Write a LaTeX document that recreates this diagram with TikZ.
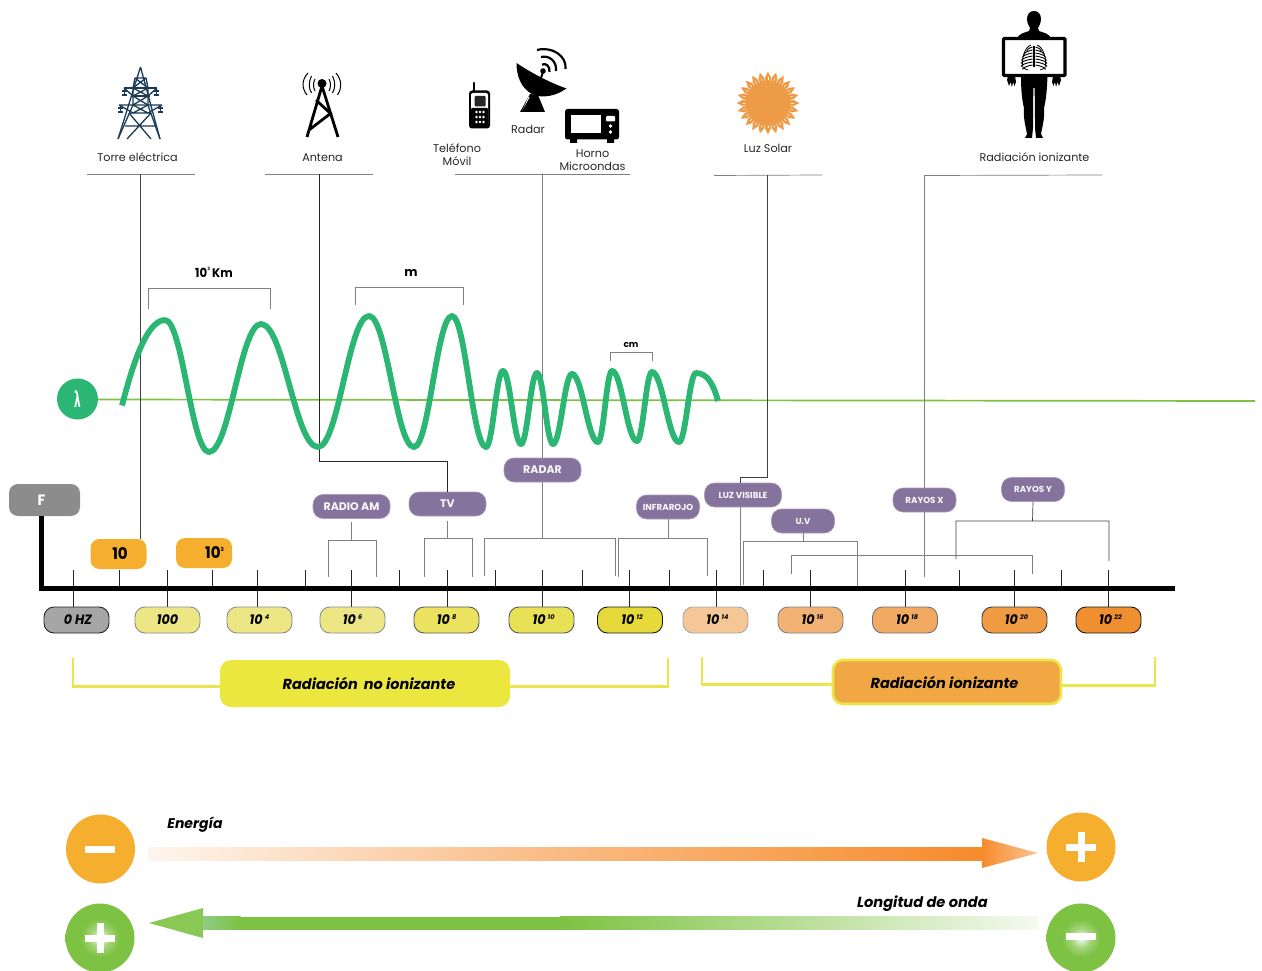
\documentclass[tikz,border=0pt]{standalone}
\usepackage{fontspec}
\setmainfont{Poppins}
\newfontfamily\dvfont{DejaVu Sans}
\usetikzlibrary{calc}
\definecolor{wavegreen}{HTML}{2BB673}
\definecolor{linegreen}{HTML}{7DC242}
\definecolor{purpbox}{HTML}{85729D}
\definecolor{ambbox}{HTML}{F5AE2E}
\definecolor{navyt}{HTML}{1B3A57}
\definecolor{sunor}{HTML}{EE9B47}
\definecolor{brackyel}{HTML}{E9E64A}
\definecolor{yelbox}{HTML}{EBE73F}
\definecolor{orabox}{HTML}{F2A745}
\definecolor{arrowor}{HTML}{F68B2C}
\pgfdeclareradialshading{glowgreen}{\pgfpoint{0bp}{0bp}}{color(0bp)=(white); color(7bp)=(linegreen!70!white); color(14bp)=(linegreen); color(50bp)=(linegreen)}
\tikzset{
  pill/.style={draw=#1,line width=.9pt,rounded corners=10pt,minimum height=26pt,inner sep=0pt,font=\bfseries\itshape\fontsize{13.5}{13.5}\selectfont,text=black},
  purp/.style={fill=purpbox,draw=purpbox!70!white,line width=.6pt,rounded corners=10pt,minimum height=24pt,inner sep=0pt,text=white!95!purpbox,font=\fontsize{#1}{#1}\selectfont\bfseries},
  purp/.default=10,
  amb/.style={fill=ambbox,rounded corners=9pt,minimum width=56pt,minimum height=30pt,inner sep=0pt,font=\bfseries\fontsize{16}{16}\selectfont},
  lab/.style={font=\fontsize{11.2}{13.3}\selectfont,text=black!85,align=center,inner sep=0pt},
  thin line/.style={line width=.7pt,draw=black!75},
  grey line/.style={line width=.7pt,draw=black!50},
  tick line/.style={line width=1pt,draw=black!85},
  wave seg/.style={draw=wavegreen,line width=5.8pt,line cap=round},
  yelbr/.style={draw=brackyel,line width=2.6pt},
}
\newcommand{\nar}[1]{\scalebox{.94}[1]{#1}}
\newcommand{\up}[1]{\raisebox{5pt}{\fontsize{6.5}{6.5}\selectfont #1}}
\begin{document}
\begin{tikzpicture}[x=1pt,y=-1pt,line join=miter]
\useasboundingbox (0,0) rectangle (1262,971);

% ---------- top labels
\node[lab] (ltorre) at (137.5,157.5) {Torre eléctrica};
\node[lab] (lant) at (322.5,157.5) {Antena};
\node[lab] (ltel) at (457,155) {Teléfono\\Móvil};
\node[lab] (lrad) at (528,129.5) {Radar};
\node[lab] (lhorno) at (592.5,160) {Horno\\Microondas};
\node[lab] (lluz) at (768,148) {Luz Solar};
\node[lab] (lrion) at (1034.5,157.5) {Radiación ionizante};

% top rules
\coordinate (r1a) at (87,174.5); \coordinate (r1b) at (195,174.5);
\coordinate (r2a) at (265,174.5); \coordinate (r2b) at (373,174.5);
\coordinate (r3a) at (455,174.5); \coordinate (r3b) at (630,174.5);
\coordinate (r4a) at (714,175.5); \coordinate (r4b) at (822,175);
\coordinate (r5a) at (924.5,175.5); \coordinate (r5b) at (1102,175);
\draw[grey line] (r1a)--(r1b) (r2a)--(r2b) (r3a)--(r3b) (r4a)--(r4b) (r5a)--(r5b);

% ---------- green baseline
\coordinate (baseL) at (98,399.5); \coordinate (baseR) at (1255,401);
\draw[linegreen,line width=1.7pt] (baseL)--(baseR);

% ---------- purple & amber boxes
\node[purp=11,minimum width=77pt] (am) at (351.5,506.5) {RADIO AM};
\node[purp=11,minimum width=77pt] (tv) at (447.5,504) {TV};
\node[purp=11,minimum width=77pt] (radar) at (542.5,470) {RADAR};
\node[purp=8.7,minimum width=63pt] (infra) at (668,507) {INFRAROJO};
\node[purp=8.7,minimum width=77pt] (luzv) at (743,495) {LUZ VISIBLE};
\node[purp=8.7,minimum width=63pt] (uv) at (803,521) {U.V};
\node[purp=8.7,minimum width=63pt] (rx) at (924.5,500) {RAYOS X};
\node[purp=8.7,minimum width=63pt] (ry) at (1033,489.5) {RAYOS Y};
\node[amb] (f10) at (118.5,554) {\hspace{3pt}\nar{10}};
\node[amb] (f1k) at (204,553) {\hspace{21pt}\nar{10}\raisebox{7pt}{\fontsize{5.5}{5.5}\selectfont 3}};
\node[fill=black!45!white,rounded corners=9pt,minimum width=71pt,minimum height=32pt,inner sep=0pt,text=white,font=\bfseries\fontsize{15}{15}\selectfont] (fbox) at (44.5,500) {\hspace{-6pt}\nar{F}};

% ---------- vertical connectors
\draw[thin line] (r1a-|140,0) -- (140,539);
\draw[line width=.9pt,draw=black!85] (319,174.5) -- (319,461) -- (447.5,461) -- (tv.north);
\draw[grey line] (542.5,174.5) -- (radar.north);
\draw[thin line] (767.8,175.5) -- (767.8,477.5) -- (740,477.5) -- (740,483);
\draw[grey line] (740,507) -- (740,587);
\draw[grey line] (r5a) -- (rx.north);
\draw[grey line] (924.5,512) -- (924.5,577);

% brackets under purple boxes
\draw[grey line] (351.5,522) -- (351.5,540) (328,577) -- (328,540) -- (376,540) -- (376,577);
\draw[grey line] (447.5,521) -- (447.5,538.5) (424,577) -- (424,538.5) -- (472,538.5) -- (472,577);
\draw[grey line] (542.5,482) -- (542.5,538) (484,576) -- (484,538) -- (615,538) -- (615,576);
\draw[grey line] (668,519) -- (668,538) (618,577) -- (618,538) -- (707.5,538) -- (707.5,576);
\draw[grey line] (803,533) -- (803,541) (743,585) -- (743,541) -- (857.5,541) -- (857.5,588);
\draw[grey line] (791,574) -- (791,555.5) -- (1032.5,555.5) -- (1032.5,574);
\draw[thin line] (ry.south) -- (1032.5,521) (956,559) -- (956,521) -- (1109,521) -- (1109,561);

% ---------- axis and ticks
\foreach \x in {73,167,257.5,351,447,542,629,716,810,905,1014,1108}
  \draw[tick line] (\x,570) -- (\x,607);
\foreach \x in {119,212,305,399.5,495,582,669,763,959,1061}
  \draw[tick line] (\x,570) -- (\x,588);
\coordinate (axO) at (41.5,588);
\draw[line width=5pt,draw=black] (fbox.south -| axO) -- (axO) -- (1175,588);

% ---------- frequency pills
\node[pill=black!85,fill=black!35,minimum width=65pt] (p0) at (76.5,620) {\hspace{3pt}\nar{0 HZ}};
\node[pill=black!45,fill={rgb,255:red,237;green,230;blue,133},minimum width=65pt] (p2) at (167.5,620) {\nar{100}};
\node[pill=black!45,fill={rgb,255:red,237;green,230;blue,133},minimum width=65pt] (p4) at (259.5,620) {\nar{10}\,\up{4}};
\node[pill=black!45,fill={rgb,255:red,237;green,230;blue,133},minimum width=65pt] (p6) at (352.5,620) {\nar{10}\,\up{6}};
\node[pill=black!65,fill={rgb,255:red,235;green,226;blue,95},minimum width=65pt] (p8) at (446.5,620) {\nar{10}\,\up{8}};
\node[pill=black!65,fill={rgb,255:red,233;green,225;blue,85},minimum width=65pt] (p10) at (541.5,620) {\hspace{4pt}\nar{10}\,\up{10}};
\node[pill=black!90,fill={rgb,255:red,230;green,217;blue,58},minimum width=65pt] (p12) at (630,620) {\hspace{4pt}\nar{10}\,\up{12}};
\node[pill=black!35,fill={rgb,255:red,246;green,199;blue,150},minimum width=65pt] (p14) at (715.5,620) {\hspace{4pt}\nar{10}\,\up{14}};
\node[pill=black!50,fill={rgb,255:red,242;green,178;blue,115},minimum width=65pt] (p16) at (810.5,620) {\hspace{4pt}\nar{10}\,\up{16}};
\node[pill=black!55,fill={rgb,255:red,242;green,169;blue,98},minimum width=65pt] (p18) at (905,620) {\hspace{4pt}\nar{10}\,\up{18}};
\node[pill=black!75,fill={rgb,255:red,240;green,154;blue,66},minimum width=65pt] (p20) at (1014.5,620) {\hspace{4pt}\nar{10}\,\up{20}};
\node[pill=black!90,fill={rgb,255:red,239;green,143;blue,47},minimum width=65pt] (p22) at (1108.5,620) {\hspace{4pt}\nar{10}\,\up{22}};

% ---------- radiation bands
\node[fill=yelbox,rounded corners=11pt,minimum width=290pt,minimum height=47pt,inner sep=0pt,font=\bfseries\itshape\fontsize{14.5}{14.5}\selectfont] (nion) at (365,683.5) {\hspace{8pt}Radiación\, no ionizante};
\node[fill=orabox,draw=brackyel,line width=2.6pt,rounded corners=10pt,minimum width=228pt,minimum height=44pt,inner sep=0pt,font=\bfseries\itshape\fontsize{14.5}{14.5}\selectfont] (ion) at (947,682) {\hspace{-5pt}Radiación ionizante};
\draw[yelbr] (73,658) -- (73,686.5) -- (nion.west |- 0,686.5);
\draw[yelbr] (668,658) -- (668,686.5) -- (nion.east |- 0,686.5);
\draw[yelbr] (702,657) -- (702,684.5) -- (ion.west |- 0,684.5);
\draw[yelbr] (1155,657) -- (1155,685.5) -- (ion.east |- 0,685.5);

% ---------- wave brackets
\draw[grey line] (148,309) -- (148,288) -- (270,288) -- (270,309);
\draw[grey line] (355,305) -- (355,287) -- (463,287) -- (463,305);
\draw[grey line] (610,361) -- (610,352) -- (652,352) -- (652,361);
\node[font=\bfseries\fontsize{12.5}{12.5}\selectfont,inner sep=0pt] (lkm) at (214,272.5) {\nar{10}\raisebox{7pt}{\fontsize{4.5}{4.5}\selectfont 3}\,\nar{Km}};
\node[font=\bfseries\fontsize{12.5}{12.5}\selectfont,inner sep=0pt] (lm) at (411,273) {m};
\node[font=\bfseries\fontsize{9}{9}\selectfont,inner sep=0pt] (lcm) at (631,344.5) {cm};

% ---------- wave
\draw[wave seg,line cap=butt] (122,405.5) .. controls (130,375) and (145,320) .. (165,320);
\foreach \xa/\ya/\xb/\yb in {165/320/209/452,209/452/261/324,261/324/318/447,318/447/369/316,369/316/414/447,414/447/452/316,452/316/486/447,486/447/503/371,503/371/521/444,521/444/537/373,537/373/553/444,553/444/572/374,572/374/598/442,598/442/612/371,612/371/637/441,637/441/652/372,652/372/679/442,679/442/696/373}
  \draw[wave seg] (\xa,\ya) .. controls ($(\xa,\ya)!.4!(\xb,\ya)$) and ($(\xb,\yb)!.4!(\xa,\yb)$) .. (\xb,\yb);
\draw[wave seg,line cap=butt] (696,373) .. controls (708,373) and (714,386) .. (718,401);

% lambda badge
\node[circle,fill=wavegreen,minimum size=41pt,inner sep=0pt,text=white,font=\dvfont\bfseries\fontsize{17}{17}\selectfont] (lam) at (77.5,399) {\scalebox{.62}[1.3]{λ}};

% ---------- tower icon
\begin{scope}[draw=navyt,line width=1.3pt]
\draw (140.5,67) -- (118,139) (140.5,67) -- (160,139);
\draw (118,139) -- (133,105) -- (133,88) -- (135,78) (160,139) -- (148,105) -- (148,88) -- (146,78);
\draw (135,78)--(146,78) (135,78)--(148,88) (146,78)--(133,88);
\draw (124,88)--(157,88) (131,96)--(150,96);
\draw (133,88)--(148,96) (148,88)--(133,96) (133,96)--(148,105) (148,96)--(133,105);
\draw (119,105)--(162,105) (119,105)--(133,113) (162,105)--(148,113) (124,88)--(133,96) (157,88)--(148,96);
\draw (130,113)--(151,113) (129,113)--(151,139) (151,113)--(127,139) (125,126)--(156,126) (133,105)--(148,113) (148,105)--(133,113);
\draw[line width=1.5pt] (122,91)--(127,91) (122,95)--(127,95) (154,91)--(159,91) (154,95)--(159,95) (118,108)--(123,108) (118,112)--(123,112) (158,108)--(163,108) (158,112)--(163,112);
\draw (124.5,88)--(124.5,96) (156.5,88)--(156.5,96) (120.5,105)--(120.5,113) (160.5,105)--(160.5,113);
\end{scope}

% ---------- antenna icon
\begin{scope}[draw=black]
\draw[line width=2.8pt] (322,86) -- (307,137) (322,86) -- (338,137) (316,100) -- (330.5,113.5) -- (309,130);
\fill (322,83.5) circle[radius=4.5];
\draw[line width=1pt] (315,79) .. controls (313,83) and (313,87) .. (315,91) (329,79) .. controls (331,83) and (331,87) .. (329,91)
 (311.5,76) .. controls (308.5,82) and (308.5,88) .. (311.5,93) (332.5,76) .. controls (335.5,82) and (335.5,88) .. (332.5,93)
 (308,73) .. controls (301.5,80) and (301.5,88) .. (307,95) (336,73) .. controls (342,80) and (342,88) .. (337.5,95);
\end{scope}

% ---------- phone icon
\draw[line width=2.4pt,line cap=round] (474,83) -- (474,92);
\fill[black,rounded corners=3pt] (469,90.5) rectangle (490,128.5);
\fill[white,rounded corners=2pt] (471,93) rectangle (488,126);
\fill[black!85,rounded corners=1pt] (474.5,96) rectangle (485.5,106.5);
\fill[black,rounded corners=1pt] (471,108) rectangle (488,126);
\foreach \px in {476.5,480,483.5} \foreach \py in {112,117,122} \fill[white] (\px,\py) circle[radius=1.3];

% ---------- radar icon
\fill[black] (516.5,63) .. controls (530,72) and (548,82) .. (566.5,88.5) .. controls (556,96) and (542,99) .. (532,94) .. controls (521,88) and (516.5,76) .. (516.5,63) -- cycle;
\fill[black] (530,94) -- (520,112) -- (545,112) -- (538,95) -- cycle;
\fill[white] (528.5,97) -- (522.5,110) -- (529.5,97.5) -- cycle;
\draw[line width=2pt] (541,78) -- (543,72);
\fill (543,71) circle[radius=2.8];
\draw[line width=2.2pt] (542,64.5) .. controls (546,63) and (550,66) .. (549.5,72)
  (541,57) .. controls (549,55) and (557,61) .. (556,71)
  (537,50) .. controls (552,46) and (567,56) .. (565.5,69);

% ---------- microwave icon
\fill[black,rounded corners=2.5pt] (565,109) rectangle (619,139.5);
\fill[black] (570,139) rectangle (577,143) (607,139) rectangle (614,143);
\fill[white] (571,115) rectangle (601,133.5);
\fill[white,rounded corners=1pt] (606,116) rectangle (615,121.5);
\fill[white] (610.5,126) circle[radius=1.9] (610.5,132) circle[radius=1.9];

% ---------- sun icon
\coordinate (sunc) at (768,103);
\foreach \a in {0,15,...,345}
  \fill[sunor] ($(sunc)+(\a-7.5:25)$) -- ($(sunc)+(\a:31.5)$) -- ($(sunc)+(\a+7.5:25)$) -- (sunc) -- cycle;
\foreach \a in {0,7.5,...,359}
  \draw[white,line width=.5pt] ($(sunc)+(\a:22.6)$) -- ($(sunc)+(\a:25.5)$);
\fill[sunor] (sunc) circle[radius=22];

% ---------- person icon
\fill[black] (1034,11) .. controls (1030,11) and (1027,14) .. (1027,19) .. controls (1027,23) and (1029,26) .. (1030,28) -- (1029,31) .. controls (1024,33) and (1020,33) .. (1017,38) -- (1051,38) .. controls (1048,33) and (1044,33) .. (1039,31) -- (1038,28) .. controls (1039,26) and (1041,23) .. (1041,19) .. controls (1041,14) and (1038,11) .. (1034,11) -- cycle;
\fill[black] (1021,76) -- (1047.5,76) .. controls (1047,90) and (1046,100) .. (1044,108) .. controls (1045,118) and (1042,128) .. (1041,134) -- (1043,138) -- (1036,138) -- (1035,128) .. controls (1035,118) and (1035,100) .. (1034.5,88) -- (1033.5,88) .. controls (1033,100) and (1033,118) .. (1033,128) -- (1032,138) -- (1025,138) -- (1027,134) .. controls (1026,128) and (1023,118) .. (1024,108) .. controls (1022,100) and (1021,90) .. (1021,76) -- cycle;
\fill[black] (1008,76) -- (1015,76) -- (1016,82) -- (1014.5,86) -- (1013,82) -- (1012,87) -- (1010.5,82) -- (1009,86) -- (1007,80) -- cycle;
\fill[black] (1053,76) -- (1060,76) -- (1061,80) -- (1059,86) -- (1057.5,82) -- (1056,87) -- (1055,82) -- (1053.5,86) -- (1052,82) -- cycle;
\draw[black,line width=3.3pt,fill=white,rounded corners=1pt] (1003.5,38.5) rectangle (1065,75.5);
% ribs
\fill[black] (1033,46) rectangle (1035,67);
\foreach \ry/\rw in {49/6,52/8.5,55/10,58/11,61/11.5,64/11.5,67/10} {
  \draw[black,line width=.9pt] (1032.5,\ry-2) .. controls ($(1032.5,\ry)-(\rw*.6,1)$) and ($(1032.5,\ry)-(\rw,-1)$) .. ($(1032.5,\ry)-(\rw,-2.5)$);
  \draw[black,line width=.9pt] (1035.5,\ry-2) .. controls ($(1035.5,\ry)+(\rw*.6,-1)$) and ($(1035.5,\ry)+(\rw,1)$) .. ($(1035.5,\ry)+(\rw,2.5)$);
}
\draw[black,line width=.8pt] (1031,45) .. controls (1025,47) and (1021,58) .. (1023,68) -- (1028,70) (1037,45) .. controls (1043,47) and (1047,58) .. (1045,68) -- (1040,70);

% ---------- bottom arrows
\node[circle,fill=ambbox,minimum size=69pt,inner sep=0pt] (cminus) at (100.5,849) {};
\node[circle,fill=ambbox,minimum size=69pt,inner sep=0pt] (cplus) at (1081,847) {};
\fill[white] (85,845.5) rectangle (115,852.5);
\fill[white] (1066,843.5) rectangle (1096,850.5);
\fill[white] (1077.5,832) rectangle (1084.5,862);

\shade[shading=glowgreen] (100,938) circle[radius=34.5];
\shade[shading=glowgreen] (1081,938) circle[radius=34.5];
\node[circle,minimum size=69pt,inner sep=0pt] (gplus) at (100,938) {};
\node[circle,minimum size=69pt,inner sep=0pt] (gminus) at (1081,938) {};
\fill[white] (85,935) rectangle (115,942);
\fill[white] (96.5,923) rectangle (103.5,953);
\fill[white] (1066,933) rectangle (1096,940);

% orange arrow
\shade[left color=white!92!arrowor,right color=arrowor!55!white] (148,847) rectangle (520.5,860);
\shade[left color=arrowor!55!white,right color=arrowor] (520,847) rectangle (982,860);
\shade[left color=arrowor,right color=arrowor!50!white] (982,838) -- (1038,853) -- (982,868) -- cycle;
% green arrow
\fill[linegreen] (240,916.5) rectangle (560,929.5);
\shade[left color=linegreen,right color=white!92!linegreen] (559.5,916.5) rectangle (1038,929.5);
\shade[left color={rgb,255:red,143;green,203;blue,133},right color=linegreen] (203,916.5) rectangle (240.5,929.5);
\fill[linegreen!90!white] (149,923) -- (203,908) -- (203,938) -- cycle;

\node[font=\bfseries\itshape\fontsize{14}{14}\selectfont,inner sep=0pt] (len) at (195,824.5) {Energía};
\node[font=\bfseries\itshape\fontsize{14.6}{14.6}\selectfont,inner sep=0pt] (llo) at (922.5,904) {Longitud de onda};
\end{tikzpicture}
\end{document}
